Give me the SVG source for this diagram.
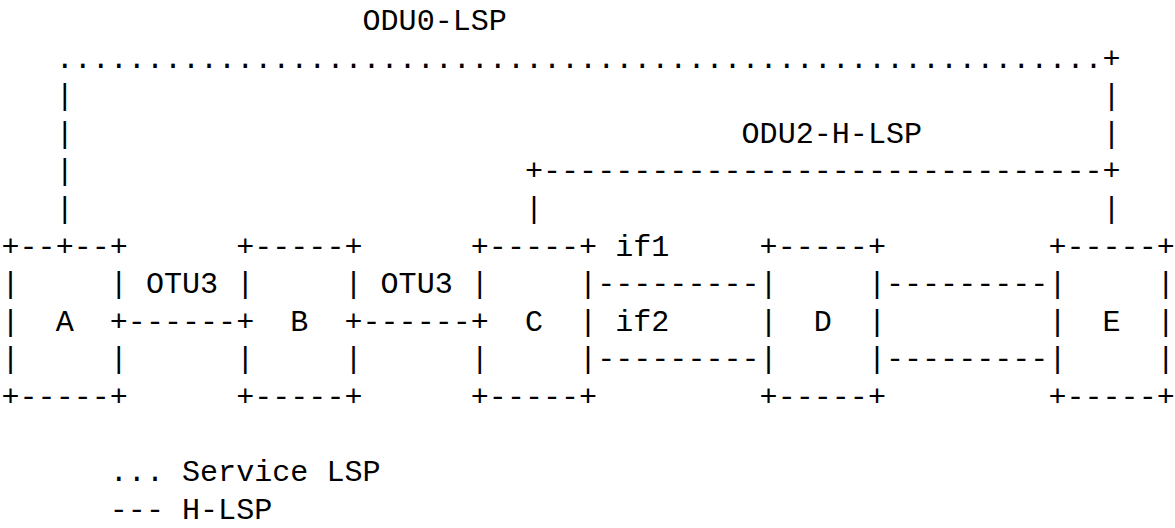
<svg xmlns="http://www.w3.org/2000/svg" width="1175" height="528" viewBox="0 0 1175 528">
<style>
text{font-family:"Liberation Mono","DejaVu Sans Mono",monospace;font-size:30.08px;fill:#000;white-space:pre}
</style>
<rect width="1175" height="528" fill="#fff"/>
<g id="connectors">
<g id="odu0-lsp">
<text x="362.5" y="30">ODU0-LSP</text>
<text x="55.65" y="67.6">..........................................................+</text>
<text x="55.65" y="105.2">|</text>
<text x="1102.55" y="105.2">|</text>
<text x="55.65" y="142.8">|</text>
<text x="1102.55" y="142.8">|</text>
<text x="55.65" y="180.4">|</text>
<text x="55.65" y="218">|</text>
</g>
<g id="odu2-h-lsp">
<text x="741.55" y="142.8">ODU2-H-LSP</text>
<text x="524.95" y="180.4">+-------------------------------+</text>
<text x="524.95" y="218">|</text>
<text x="1102.55" y="218">|</text>
</g>
<g id="link-a-b">
<text x="145.9" y="293.2">OTU3</text>
<text x="127.85" y="330.8">------</text>
</g>
<g id="link-b-c">
<text x="380.55" y="293.2">OTU3</text>
<text x="362.5" y="330.8">------</text>
</g>
<g id="link-c-d">
<text x="615.2" y="255.6">if1</text>
<text x="597.15" y="293.2">---------</text>
<text x="615.2" y="330.8">if2</text>
<text x="597.15" y="368.4">---------</text>
</g>
<g id="link-d-e">
<text x="885.95" y="293.2">---------</text>
<text x="885.95" y="368.4">---------</text>
</g>
</g>
<g id="node-a">
<text x="1.5" y="255.6">+--+--+</text>
<text x="1.5" y="293.2">|     |</text>
<text x="1.5" y="330.8">|  A  +</text>
<text x="1.5" y="368.4">|     |</text>
<text x="1.5" y="406">+-----+</text>
</g>
<g id="node-b">
<text x="236.15" y="255.6">+-----+</text>
<text x="236.15" y="293.2">|     |</text>
<text x="236.15" y="330.8">+  B  +</text>
<text x="236.15" y="368.4">|     |</text>
<text x="236.15" y="406">+-----+</text>
</g>
<g id="node-c">
<text x="470.8" y="255.6">+-----+</text>
<text x="470.8" y="293.2">|     |</text>
<text x="470.8" y="330.8">+  C  |</text>
<text x="470.8" y="368.4">|     |</text>
<text x="470.8" y="406">+-----+</text>
</g>
<g id="node-d">
<text x="759.6" y="255.6">+-----+</text>
<text x="759.6" y="293.2">|     |</text>
<text x="759.6" y="330.8">|  D  |</text>
<text x="759.6" y="368.4">|     |</text>
<text x="759.6" y="406">+-----+</text>
</g>
<g id="node-e">
<text x="1048.4" y="255.6">+-----+</text>
<text x="1048.4" y="293.2">|     |</text>
<text x="1048.4" y="330.8">|  E  |</text>
<text x="1048.4" y="368.4">|     |</text>
<text x="1048.4" y="406">+-----+</text>
</g>
<g id="legend">
<text x="109.8" y="481.2">... Service LSP</text>
<text x="109.8" y="518.8">--- H-LSP</text>
</g>
</svg>
